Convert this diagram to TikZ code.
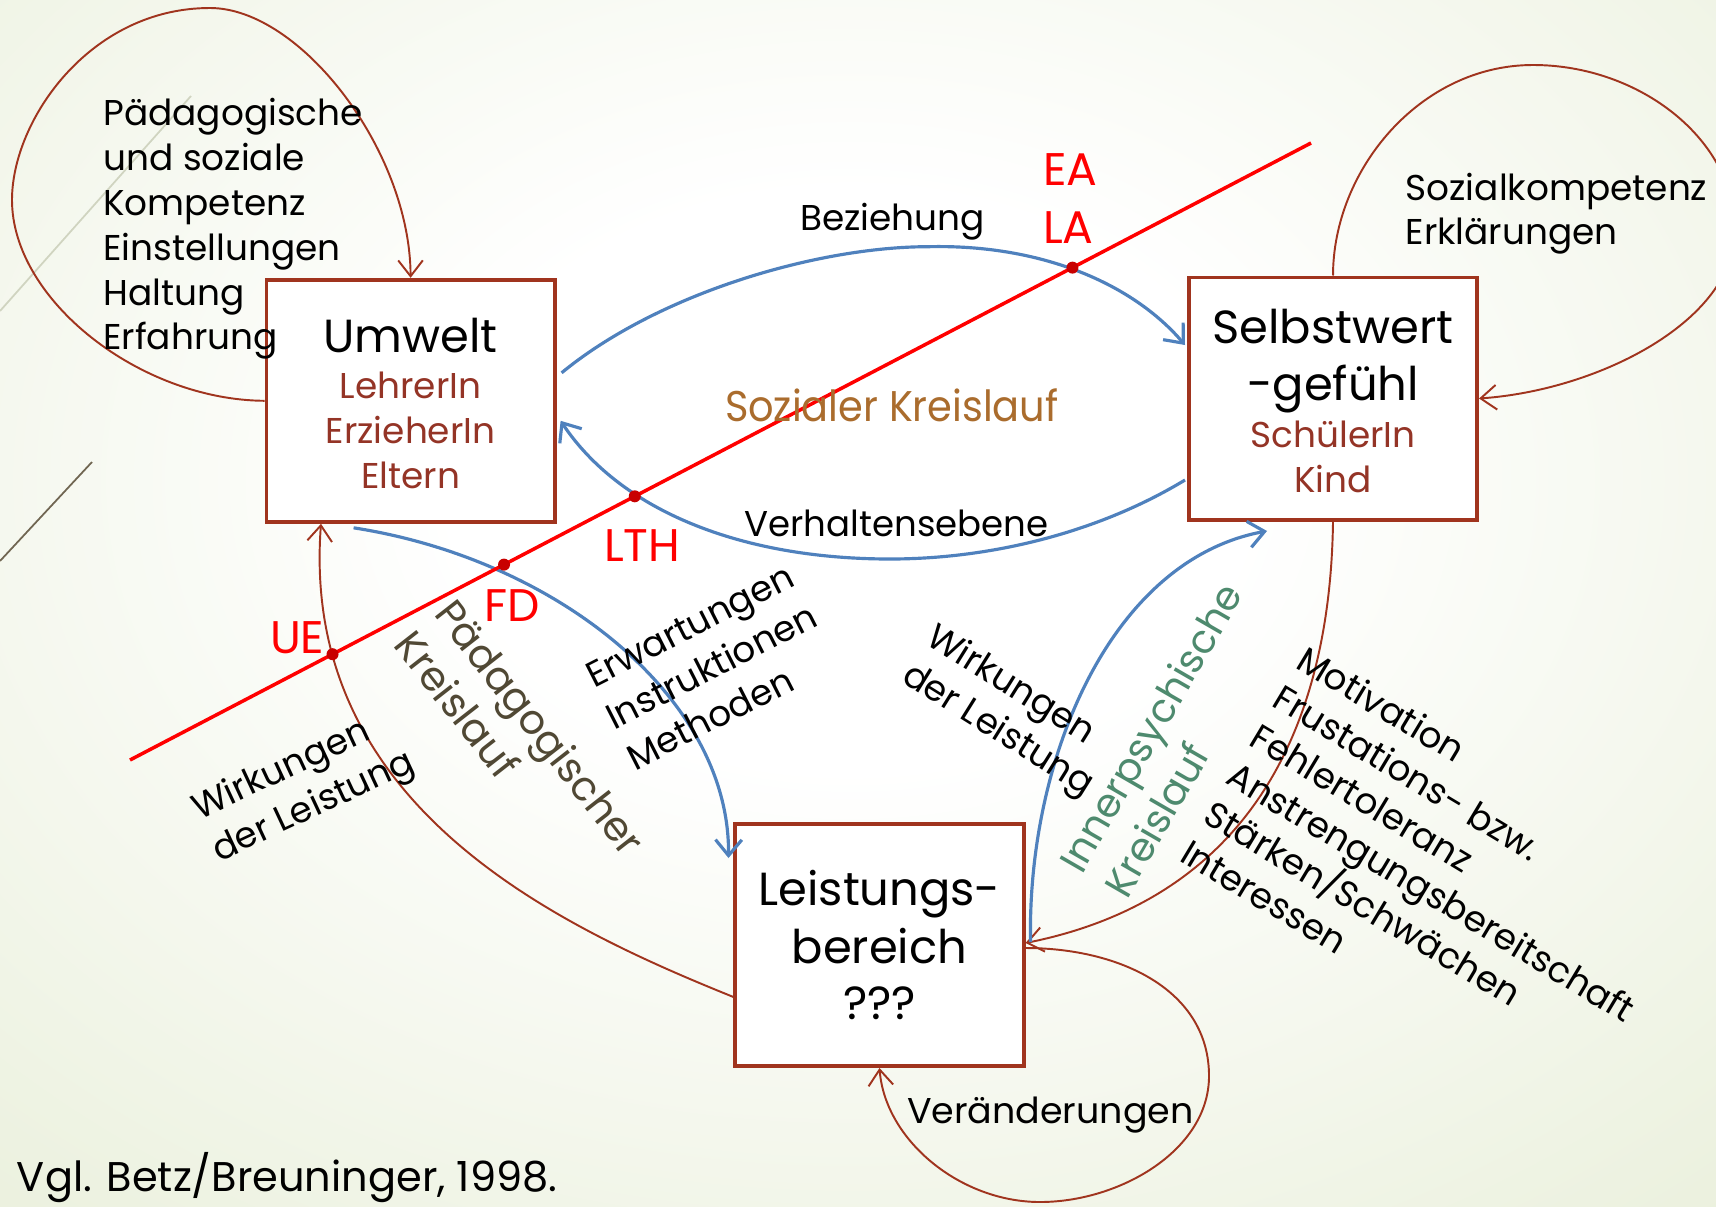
\documentclass[tikz,border=0pt]{standalone}
\usepackage{fontspec}
\setmainfont{Poppins}
\usetikzlibrary{arrows.meta,calc}

\definecolor{boxred}{RGB}{160,52,30}
\definecolor{subred}{RGB}{148,52,38}
\definecolor{flowblue}{RGB}{79,129,189}
\definecolor{axisred}{RGB}{255,0,0}
\definecolor{dotred}{RGB}{200,0,0}
\definecolor{socbrown}{RGB}{170,108,45}
\definecolor{paedbrown}{RGB}{80,72,52}
\definecolor{innergreen}{RGB}{78,138,110}
\definecolor{bgouter}{RGB}{220,230,196}
\definecolor{bgmid}{RGB}{237,242,225}
\definecolor{wisplight}{RGB}{208,212,192}
\definecolor{wispdark}{RGB}{112,102,82}

\pgfdeclareradialshading{slidebg}{\pgfpoint{0bp}{0bp}}{%
  color(0bp)=(white); color(9bp)=(white); color(28bp)=(bgmid); color(50bp)=(bgouter)}

\begin{document}
\begin{tikzpicture}[x=0.01cm,y=-0.01cm,
  box/.style={draw=boxred, line width=1.1pt, fill=white,
    minimum width=2.88cm, minimum height=2.42cm, inner sep=0pt},
  txt/.style={inner sep=0pt, outer sep=0pt, text=black},
  small/.style={txt, font=\fontsize{10.2}{12}\selectfont},
  title/.style={txt, font=\fontsize{13.2}{16}\selectfont},
  sub/.style={txt, text=subred, font=\fontsize{10.2}{12}\selectfont},
  redlbl/.style={txt, text=axisred, font=\fontsize{13}{15}\selectfont},
  cycle/.style={txt, font=\fontsize{11.6}{14}\selectfont},
  thinarrow/.style={draw=boxred, line width=0.55pt,
    -{Straight Barb[length=4.5pt,width=7pt]}},
  bluearrow/.style={draw=flowblue, line width=0.9pt,
    -{Straight Barb[length=4.5pt,width=7.5pt]}},
  axis/.style={draw=axisred, line width=1pt},
]
\clip (0,0) rectangle (1716,1206);
\shade[shading=slidebg] (-250,-320) rectangle (1950,1280);

% faint decorative strokes of the slide background
\draw[wisplight, line width=0.5pt] (0,311) -- (191,96);
\draw[wispdark, line width=0.5pt] (0,561) -- (92,462);

% the three boxes
\node[box] (umw) at (410.6,400.8) {};
\node[box] (sel) at (1333,398.5) {};
\node[box] (lei) at (879.5,945) {};

% box texts
\node[title, anchor=base] (umw-t) at (410.6,352) {Umwelt};
\node[sub, anchor=base] (umw-1) at (410.6,398) {LehrerIn};
\node[sub, anchor=base] (umw-2) at (410.6,443) {ErzieherIn};
\node[sub, anchor=base] (umw-3) at (410.6,488) {Eltern};

\node[title, anchor=base] (sel-t1) at (1333,343.5) {Selbstwert};
\node[title, anchor=base] (sel-t2) at (1333,400) {-gefühl};
\node[sub, anchor=base] (sel-1) at (1333,447) {SchülerIn};
\node[sub, anchor=base] (sel-2) at (1333,492) {Kind};

\node[title, anchor=base] (lei-t1) at (879.5,905) {Leistungs-};
\node[title, anchor=base] (lei-t2) at (879.5,963) {bereich};
\node[title, anchor=base] (lei-t3) at (879.5,1019) {???};

% self loops
\draw[thinarrow] (umw.west) .. controls (140,400) and (12,300) .. (12,200)
  .. controls (12,120) and (90,8) .. (210,8)
  .. controls (300,8) and (410,150) .. (umw.north);
\draw[thinarrow] (sel.north) .. controls (1333,170) and (1420,65) .. (1533,65)
  .. controls (1640,65) and (1735,140) .. (1735,230)
  .. controls (1735,320) and (1600,390) .. (sel.east);
\draw[thinarrow] ($(lei.east)+(0,3)$) .. controls (1120,948) and (1209,990) .. (1209,1076)
  .. controls (1209,1150) and (1120,1202) .. (1040,1202)
  .. controls (960,1202) and (885,1140) .. (lei.south);

% innerpsychic cycle
\draw[thinarrow] (sel.south) .. controls (1330,740) and (1240,900) .. ($(lei.east)+(0,-2)$);
\coordinate (ip-end) at (1267,531);
\draw[bluearrow] ($(lei.east)+(5,-3)$) .. controls (1027,760) and (1110,560) .. (ip-end);

% pedagogic cycle
\draw[thinarrow] ($(lei.west)+(0,52)$) .. controls (555,925) and (300,805) .. ($(umw.south)+(-89.6,0)$);
\draw[bluearrow] ($(umw.south)+(-57,4)$) .. controls (560,560) and (730,700) .. ($(lei.north west)+(-5,36)$);

% social cycle
\draw[bluearrow] ($(umw.east)+(5,-28)$) .. controls (660,292) and (820,246.7) .. (928,246.7)
  .. controls (1040,244) and (1132,283) .. ($(sel.west)+(-2,-53.5)$);
\draw[bluearrow] ($(sel.west)+(-2,81.5)$) .. controls (1097.5,533) and (990,559) .. (890,559)
  .. controls (740,559) and (620,510) .. ($(umw.east)+(4,20)$);

% the red dividing line with its crossing points
\coordinate (ax-a) at (130,760);
\coordinate (ax-b) at (1311,143);
\draw[axis] (ax-a) -- (ax-b);
\foreach \t/\n in {0.1715/ue,0.3167/fd,0.4274/lth,0.798/ea}{
  \coordinate (dot-\n) at ($(ax-a)!\t!(ax-b)$);
  \fill[dotred] (dot-\n) circle (6);
}
\node[redlbl, anchor=base west] (l-ue) at (270,653) {UE};
\node[redlbl, anchor=base west] (l-fd) at (484.7,621.6) {FD};
\node[redlbl, anchor=base west] (l-lth) at (604,561.7) {LTH};
\node[redlbl, anchor=base west] (l-ea) at (1043,185.7) {EA};
\node[redlbl, anchor=base west] (l-la) at (1043,243.3) {LA};

% labels of the social cycle
\node[small, anchor=base west] (bez) at (800,230) {\scalebox{1.0}[1]{Beziehung}};
\node[txt, text=socbrown, font=\fontsize{12.2}{14}\selectfont, anchor=base west] (soz) at (725,421.7) {\scalebox{0.93}[1]{Sozialer Kreislauf}};
\node[small, anchor=base west] (verh) at (744.6,536.7) {\scalebox{0.99}[1]{Verhaltensebene}};
\node[small, anchor=base west] (veraend) at (907,1123.6) {\scalebox{1.015}[1]{Veränderungen}};

% lists beside the loops
\foreach \y/\s [count=\i] in {125.7/Pädagogische,170/und soziale,215/Kompetenz,260/Einstellungen,305/Haltung,349/Erfahrung}
  \node[small, anchor=base west] (env-\i) at (103.3,\y) {\s};
\node[small, anchor=base west] (sk-1) at (1405.6,200) {Sozialkompetenz};
\node[small, anchor=base west] (sk-2) at (1405.6,244) {Erklärungen};

% rotated labels
\node[cycle, text=paedbrown, rotate=-52, anchor=base west] (pk-1) at (433,614) {Pädagogischer};
\node[cycle, text=paedbrown, rotate=-52, anchor=base west] (pk-2) at (392,645) {Kreislauf};

\node[small, rotate=25, anchor=base west] (wl-1) at (199,820) {Wirkungen};
\node[small, rotate=25, anchor=base west] (wl-2) at (219,862) {der Leistung};

\node[small, rotate=27, anchor=base west] (ei-1) at (594,688) {Erwartungen};
\node[small, rotate=27, anchor=base west] (ei-2) at (614,730) {Instruktionen};
\node[small, rotate=27, anchor=base west] (ei-3) at (635,771) {Methoden};

\node[small, rotate=-32, anchor=base west] (wr-1) at (924,643) {Wirkungen};
\node[small, rotate=-32, anchor=base west] (wr-2) at (900,681) {der Leistung};

\node[cycle, font=\fontsize{11.3}{14}\selectfont, text=innergreen, rotate=60, anchor=base west] (ik-1) at (1082,875) {Innerpsychische};
\node[cycle, font=\fontsize{11.3}{14}\selectfont, text=innergreen, rotate=60, anchor=base west] (ik-2) at (1127,900) {Kreislauf};

\foreach \s [count=\i from 0] in {Motivation,Frustations- bzw.,Fehlertoleranz,Anstrengungsbereitschaft,Stärken/Schwächen,Interessen}
  \node[small, rotate=-31, anchor=base west] (mot-\i) at ($(1294,667)+\i*(-23.2,38.6)$) {\s};

% source
\node[txt, font=\fontsize{11.8}{14}\selectfont, anchor=base west] (src) at (17,1191) {Vgl. Betz/Breuninger, 1998.};
\end{tikzpicture}
\end{document}
